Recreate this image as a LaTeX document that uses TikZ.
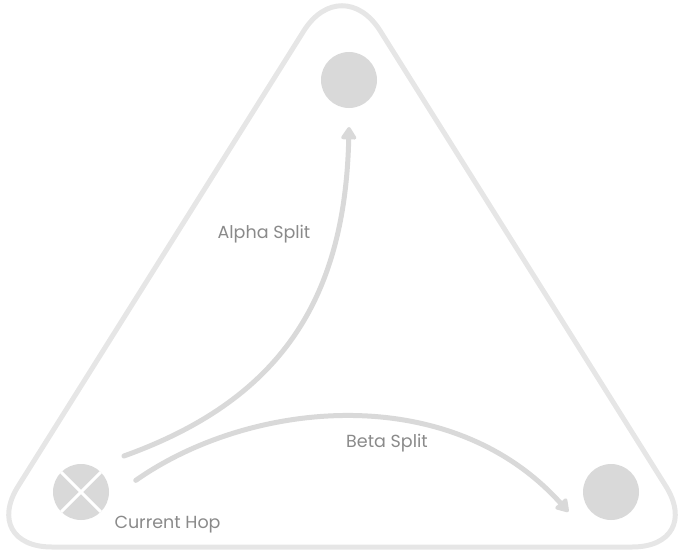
\documentclass[tikz,border=0pt]{standalone}
\usepackage{fontspec}
\setmainfont{Poppins}
\usetikzlibrary{arrows.meta,positioning,calc}
\definecolor{frameGray}{HTML}{E6E6E6}
\definecolor{dotGray}{HTML}{D9D9D9}
\definecolor{labelGray}{HTML}{8A8A8A}

\begin{document}
\begin{tikzpicture}[
    x=1pt, y=-1pt,
    every node/.style={font=\fontsize{17.5}{21}\selectfont, text=labelGray},
    hopdot/.style={circle, fill=dotGray, minimum size=56pt, inner sep=0pt},
    splitarrow/.style={draw=dotGray, line width=5pt, line cap=round, -{Triangle[length=14pt,width=17pt,round]}}
  ]
    \useasboundingbox (0,0) rectangle (679,551);

    % rounded frame
    \draw[frameGray, line width=5pt, rounded corners=72pt] (342,-30) -- (704,547) -- (-20,547) -- cycle;

    \node[hopdot, outer sep=28pt, path picture={
        \draw[white, line width=3pt] (path picture bounding box.north east) -- (path picture bounding box.south west);
        \draw[white, line width=3pt] (path picture bounding box.north west) -- (path picture bounding box.south east);
      }] (hop) at (81,492) {};
    \node[hopdot, outer sep=19pt] (alpha) at (349,80) {};
    \node[hopdot, outer sep=19pt] (beta) at (611,492) {};

    \node[anchor=base west] (hoplabel) at (111,528) {Current Hop};
    \node (alphalabel) at (264,234) {Alpha Split};
    \node (betalabel) at (387,443) {Beta Split};

    \draw[splitarrow] (hop.40) .. controls (280,400) and (345,300) .. (alpha.south);
    \draw[splitarrow] (hop.12) .. controls (250,400) and (450,380) .. (beta.205);
  \end{tikzpicture}
\end{document}
